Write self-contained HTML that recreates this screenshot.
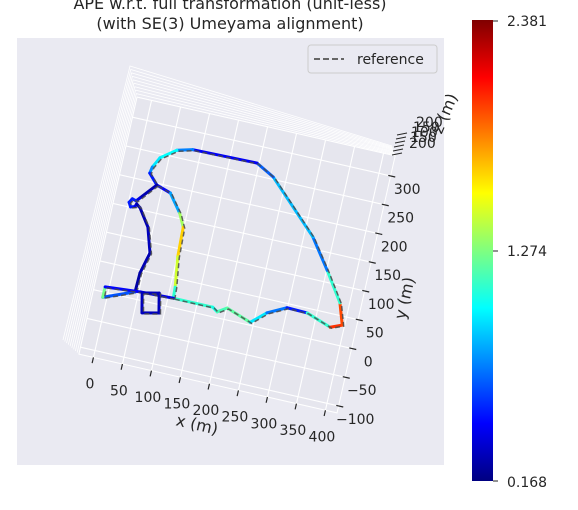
<!DOCTYPE html>
<html><head><meta charset="utf-8"><style>
body{margin:0;background:#fff;width:578px;height:505px;overflow:hidden;font-family:"Liberation Sans","DejaVu Sans",sans-serif}
svg text{font-family:"DejaVu Sans","Liberation Sans",sans-serif;fill:#262626}
</style></head><body>
<svg id="chart" width="578" height="505" xmlns="http://www.w3.org/2000/svg">
<defs><linearGradient id="jet" x1="0" y1="1" x2="0" y2="0">
<stop offset="0" stop-color="#000080"/><stop offset="0.125" stop-color="#0000ff"/><stop offset="0.375" stop-color="#00ffff"/><stop offset="0.625" stop-color="#ffff00"/><stop offset="0.875" stop-color="#ff0000"/><stop offset="1" stop-color="#800000"/></linearGradient></defs>
<text x="230" y="9" text-anchor="middle" font-size="16">APE w.r.t. full transformation (unit-less)</text>
<text x="230" y="29" text-anchor="middle" font-size="16">(with SE(3) Umeyama alignment)</text>
<rect x="17" y="38" width="427" height="427" fill="#eaeaf2"/>
<g id="walls"></g>
<g id="grid"></g>
<g id="traj"></g>
<g id="ticks"></g>
<text x="197" y="430" font-size="16" text-anchor="middle" transform="rotate(13 197 425)">x (m)</text>
<text x="404" y="304" font-size="16" text-anchor="middle" transform="rotate(-77 404 298)">y (m)</text>
<text x="446" y="118" font-size="16" text-anchor="middle" transform="rotate(-67 446 114)">z (m)</text>
<g font-size="14">
<text x="416" y="127">200</text><text x="413" y="132">150</text><text x="411" y="137">100</text><text x="410" y="142">150</text><text x="409" y="148">200</text>
<line x1="392" y1="155" x2="402" y2="153" stroke="#262626"/><line x1="393" y1="151" x2="403" y2="149" stroke="#262626"/><line x1="394" y1="147" x2="404" y2="145" stroke="#262626"/><line x1="395" y1="143" x2="405" y2="141" stroke="#262626"/><line x1="396" y1="139" x2="406" y2="137" stroke="#262626"/><line x1="397" y1="135" x2="407" y2="133" stroke="#262626"/>
</g>
<g>
<rect x="308" y="45" width="129" height="28" rx="3" fill="#eaeaf2" stroke="#cccccc"/>
<line x1="314" y1="59" x2="344" y2="59" stroke="#666" stroke-width="2" stroke-dasharray="6,3"/>
<text x="357" y="64" font-size="14">reference</text>
</g>
<g>
<rect x="472" y="20" width="21" height="461" fill="url(#jet)"/>
<line x1="493" y1="21" x2="498" y2="21" stroke="#262626"/><line x1="493" y1="251" x2="498" y2="251" stroke="#262626"/><line x1="493" y1="481" x2="498" y2="481" stroke="#262626"/>
<text x="507" y="26" font-size="14">2.381</text><text x="507" y="256" font-size="14">1.274</text><text x="507" y="487" font-size="14">0.168</text>
</g>
</svg>
<script>
const loopX=[109,177,186,201,244,268,299,334,377,396,384,351,315,228,196,86,60,35,26,24,40,65,88,99,101,108,109];
const loopY=[16,16,10,20,5,27,43,42,27,35,71,120,170,254,271,269,262,243,225,214,197,189,159,137,86,35,16];
const loopErr=[1.0,1.2,0.9,1.4,1.0,0.9,0.5,0.5,1.7,2.3,1.6,0.6,0.8,0.9,0.4,0.45,1.0,1.0,0.9,0.6,0.4,0.5,1.1,1.6,1.7,1.2,1.0];
const branchX=[40,17,12,5,1,5,12,14,21,41,54,45,44,-7,-7];
const branchY=[197,169,163,165,158,151,153,158,153,124,82,45,12,-9,9];
const branchErr=[0.3,0.25,0.5,0.5,0.5,0.5,0.5,0.3,0.25,0.3,0.3,0.25,0.25,1.0,1.5];
const barX=[-7,53,109];
const barY=[9,14,16];
const barErr=[0.6,0.3,0.5];
const squareX=[56,84,91,63,56];
const squareY=[13,19,-14,-20,13];
const squareErr=[0.3,0.3,0.3,0.3,0.3];
const xTicks=[0,50,100,150,200,250,300,350,400];
const yTicks=[-100,-50,0,50,100,150,200,250,300];
const errMin=0.168, errMax=2.381;
const NS="http://www.w3.org/2000/svg";
function sx(x,y){return 108+0.58*x+0.13*y;}
function sy(x,y){return 293+0.132*x-0.575*y;}
function jet(v){let t=(v-errMin)/(errMax-errMin);t=Math.max(0,Math.min(1,t));
 const r=Math.max(0,Math.min(1,1.5-Math.abs(4*t-3))),g=Math.max(0,Math.min(1,1.5-Math.abs(4*t-2))),b=Math.max(0,Math.min(1,1.5-Math.abs(4*t-1)));
 return `rgb(${Math.round(r*255)},${Math.round(g*255)},${Math.round(b*255)})`;}
function mk(tag,attrs,parent){const e=document.createElementNS(NS,tag);for(const k in attrs)e.setAttribute(k,attrs[k]);parent.appendChild(e);return e;}
const grid=document.getElementById('grid'),walls=document.getElementById('walls'),traj=document.getElementById('traj'),ticks=document.getElementById('ticks');
const gx0=-25,gx1=420,gy0=-112,gy1=335;
// walls (edge-on stacked lines)
const fTL=[sx(gx0,gy1),sy(gx0,gy1)],fBL=[sx(gx0,gy0),sy(gx0,gy0)],fTR=[sx(gx1,gy1),sy(gx1,gy1)];
const wTL=[130,66],wBL=[63,340],wTR=[392,146];
for(let i=0;i<=9;i++){const f=i/9;
 const tl=[fTL[0]+(wTL[0]-fTL[0])*f,fTL[1]+(wTL[1]-fTL[1])*f];
 const bl=[fBL[0]+(wBL[0]-fBL[0])*f,fBL[1]+(wBL[1]-fBL[1])*f];
 const tr=[fTR[0]+(wTR[0]-fTR[0])*f,fTR[1]+(wTR[1]-fTR[1])*f];
 const l=mk('polyline',{points:bl.join(',')+' '+tl.join(',')+' '+tr.join(','),fill:'none',stroke:'#fff','stroke-width':0.8},walls);
 
 }
const pane=mk('polygon',{points:[[gx0,gy0],[gx1,gy0],[gx1,gy1],[gx0,gy1]].map(p=>sx(p[0],p[1])+','+sy(p[0],p[1])).join(' '),fill:'#e6e6ee',stroke:'#ffffff','stroke-width':1},grid);


xTicks.forEach(x=>{const l=mk('line',{x1:sx(x,gy0),y1:sy(x,gy0),x2:sx(x,gy1),y2:sy(x,gy1),stroke:'#fff','stroke-width':1.1},grid);
 
 });
yTicks.forEach(y=>{const l=mk('line',{x1:sx(gx0,y),y1:sy(gx0,y),x2:sx(gx1,y),y2:sy(gx1,y),stroke:'#fff','stroke-width':1.1},grid);
 
 });
function drawPath(X,Y,E,name){
 for(let i=0;i<X.length-1;i++){const s=mk('line',{x1:sx(X[i],Y[i]),y1:sy(X[i],Y[i]),x2:sx(X[i+1],Y[i+1]),y2:sy(X[i+1],Y[i+1]),stroke:jet((E[i]+E[i+1])/2),'stroke-width':3,'stroke-linecap':'round'},traj);
  
  }
 const pts=X.map((x,i)=>(sx(x,Y[i])+1.5)+','+(sy(x,Y[i])+1)).join(' ');
 const r=mk('polyline',{points:pts,fill:'none',stroke:'#4a4a4a','stroke-width':1.5,'stroke-dasharray':'5,3','stroke-opacity':0.85},traj);
 
 }
drawPath(loopX,loopY,loopErr,'main-loop');
drawPath(branchX,branchY,branchErr,'branch');
drawPath(barX,barY,barErr,'bar');
drawPath(squareX,squareY,squareErr,'square-loop');
xTicks.forEach(x=>{const l=mk('line',{x1:sx(x,-112),y1:sy(x,-112),x2:sx(x,-122),y2:sy(x,-122),stroke:'#262626','stroke-width':1.2},ticks);
 
 
 const t=mk('text',{x:sx(x,-116)-3,y:sy(x,-116)+29,'text-anchor':'middle','font-size':14},ticks);t.textContent=x;
 
 });
yTicks.forEach(y=>{const l=mk('line',{x1:sx(416,y),y1:sy(416,y),x2:sx(428,y),y2:sy(428,y),stroke:'#262626','stroke-width':1.2},ticks);
 
 
 const t=mk('text',{x:sx(428,y)+12,y:sy(428,y)+17,'text-anchor':'middle','font-size':14},ticks);t.textContent=(y<0?'\u2212'+(-y):y);
 
 });
</script>
</body></html>
